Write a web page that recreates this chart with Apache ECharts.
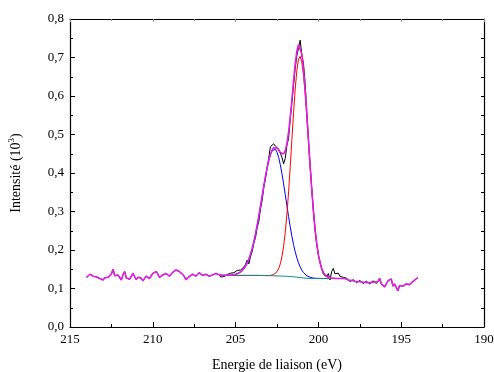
<!DOCTYPE html>
<html>
<head>
<meta charset="utf-8">
<script src="https://cdn.jsdelivr.net/npm/echarts@6/dist/echarts.min.js"></script>
<style>html,body{margin:0;padding:0;background:#fff}#c{width:494px;height:372px}</style>
</head>
<body>
<div id="c"></div>
<script>
// Raw spectrum: 214.0 eV down to 194.0 eV, step 0.1 eV
var rawStart = 214.0, rawStep = 0.1;
var rawIntensity = [
 .129,.133,.137,.135,.132,.134,.130,.127,.126,.124,
 .122,.128,.132,.129,.131,.138,.150,.133,.131,.135,
 .130,.122,.136,.144,.127,.129,.124,.122,.139,.131,
 .123,.129,.131,.127,.120,.126,.132,.130,.126,.131,
 .139,.136,.144,.138,.129,.131,.135,.132,.139,.137,
 .132,.135,.142,.139,.148,.146,.144,.141,.137,.131,
 .123,.127,.131,.129,.137,.134,.132,.135,.141,.138,
 .134,.136,.137,.135,.132,.134,.135,.134,.139,.143,
 .136,
 .130,.128,.131,.133,.136,.134,.140,.144,.141,.139,
 .147,.152,.148,.146,.156,.162,.174,.164,.183,.196,
 .218,.232,.258,.274,.306,.328,.362,.385,.412,.438,
 .468,.472,.476,.470,.466,.462,.452,.441,.424,.438,
 .472,.490,.541,.582,.628,.672,.705,.724,.745,.706,
 .684,.632,.558,.486,.420,.360,.302,.251,.215,.187,
 .168,.151,.137,.132,.130,.139,.122,.144,.152,.138,
 .135,.140,.132,.136,.129,.131,.127,
 .122,.118,.121,.123,.119,.115,.118,.121,.117,.113,
 .116,.119,.115,.112,.116,.120,.117,.113,.118,.126,
 .112,.108,.104,.112,.120,.124,.125,.106,.112,.103,
 .094,.108,.113,.106,.109,.112,.115,.110,.107,.118,
 .122,.125,.128
];

// Fit region: 205.9 eV down to 198.3 eV, step 0.1 eV
var fitStart = 205.9, fitStep = 0.1;
var baseline = [
 .134,.134,.134,.134,.134,.134,.134,.134,.134,.134,
 .134,.134,.134,.134,.134,.134,.134,.134,.134,.134,
 .134,.134,.134,.134,
 .1339,.1338,.1337,.1336,.1335,.1334,.1333,.1331,.1330,.1328,
 .1327,.1325,.1324,.1322,.1321,.1319,.1317,.1315,.1312,.1309,
 .1305,.1300,.1295,.1289,.1283,.1278,.1273,.1269,.1266,.1264,
 .1262,.1261,
 .126,.126,.126,.126,.126,.126,.126,.126,.126,.126,
 .126,.126,.126,.126,.126,.126,.126,.126,.126,.126,.126
];
var peakBlue = [
 .1340,.1341,.1341,.1342,.1343,.1345,.1348,.1352,.1359,.1369,
 .1383,.1403,.1430,.1467,.1516,.1580,.1662,.1763,.1888,.2038,
 .2212,.2411,.2634,.2876,.3131,.3392,.3652,.3900,.4126,.4320,
 .4472,.4575,.4625,.4616,.4542,.4405,.4215,.3981,.3717,.3435,
 .3147,.2867,.2601,.2357,.2141,.1953,.1795,.1664,.1559,.1476,
 .1413,.1366,.1331,.1307,.1290,.1279,.1271,.1267,.1264,.1262,
 .1261,
 .126,.126,.126,.126,.126,.126,.126,.126,.126,.126,
 .126,.126,.126,.126,.126,.126
];
var peakRed = [
 .134,.134,.134,.134,.134,.134,.134,.134,.134,.134,
 .134,.134,.134,.134,.134,.134,.134,.134,.134,.134,
 .134,.134,.134,.134,.1339,.1338,.1337,.1336,.1335,
 .1338,.1341,.1347,.1362,.1388,.1436,.1515,.1640,.1829,.2099,
 .2465,.2937,.3510,.4166,.4868,.5562,.6183,.6670,.6963,.7029,
 .6882,.6548,.6061,.5466,.4817,.4163,.3546,.2997,.2535,.2162,
 .1876,.1667,.1519,.1419,.1354,.1314,.1290,.1276,.1268,.1264,
 .1262,.1261,
 .126,.126,.126,.126,.126,.126
];
var envelope = [
 .1340,.1341,.1341,.1342,.1343,.1345,.1348,.1352,.1359,.1369,
 .1383,.1403,.1430,.1467,.1516,.1580,.1662,.1763,.1888,.2038,
 .2212,.2411,.2634,.2876,.3131,.3392,.3652,.3900,.4126,
 .4324,.4480,.4591,.4657,.4676,.4651,.4595,.4531,.4488,.4495,
 .4581,.4767,.5062,.5455,.5916,.6398,.6836,.7170,.7338,.7305,
 .7080,.6688,.6158,.5531,.4860,.4191,.3564,.3008,.2542,.2166,
 .1878,.1668,.1519,.1419,.1354,.1314,.1290,.1276,.1268,.1264,
 .1262,.1261,
 .126,.126,.126,.126,.126,.126
];

var xTicks = [190, 195, 200, 205, 210, 215];
var yTicks = [0, 0.1, 0.2, 0.3, 0.4, 0.5, 0.6, 0.7, 0.8];

function energyAt(start, step, i) { return Math.round((start - i * step) * 10) / 10; }
function pairs(start, step, arr) {
  return arr.map(function (v, i) { return [energyAt(start, step, i), v]; });
}
var rawPairs = pairs(rawStart, rawStep, rawIntensity);
var fitEnd = energyAt(fitStart, fitStep, envelope.length - 1);
var magentaPairs = rawPairs.map(function (p) {
  if (p[0] <= fitStart && p[0] >= fitEnd) {
    var j = Math.round((fitStart - p[0]) / fitStep);
    return [p[0], envelope[j]];
  }
  return p;
});

var FONT = '"Liberation Serif","Times New Roman",serif';
var chart = echarts.init(document.getElementById('c'), null, {renderer: 'canvas'});
function axisBase(extra) {
  var o = {
    axisLine: {show: true, onZero: false, lineStyle: {color: '#000', width: 1.2}},
    axisTick: {show: true, inside: true, length: 5, lineStyle: {color: '#000', width: 1}},
    minorTick: {show: true, splitNumber: 2, length: 3, lineStyle: {color: '#000', width: 1}},
    splitLine: {show: false},
    minorSplitLine: {show: false}
  };
  for (var k in extra) o[k] = extra[k];
  return o;
}
var option = {
  animation: false,
  backgroundColor: '#fff',
  grid: {left: 70, right: 10, top: 19, bottom: 45, containLabel: false, outerBoundsMode: 'none'},
  xAxis: [
    axisBase({
      type: 'value', position: 'bottom', min: xTicks[0], max: xTicks[xTicks.length - 1], interval: 5, inverse: true,
      name: 'Energie de liaison (eV)', nameLocation: 'middle', nameGap: 31,
      nameTextStyle: {fontFamily: FONT, fontSize: 14, color: '#000', verticalAlign: 'top'},
      axisLabel: {show: true, margin: 6, fontFamily: FONT, fontSize: 13, color: '#000', formatter: function (v) { return String(v); }}
    }),
    axisBase({
      type: 'value', position: 'top', min: xTicks[0], max: xTicks[xTicks.length - 1], interval: 5, inverse: true,
      axisLabel: {show: false},
      axisTick: {show: true, inside: true, length: 3, lineStyle: {color: '#999', width: 1}},
      minorTick: {show: true, splitNumber: 2, length: 2, lineStyle: {color: '#999', width: 1}}
    })
  ],
  yAxis: [
    axisBase({
      type: 'value', position: 'left', min: yTicks[0], max: yTicks[yTicks.length - 1], interval: 0.1,
      name: 'Intensité (10{sup|3})', nameLocation: 'middle', nameGap: 45,
      nameTextStyle: {fontFamily: FONT, fontSize: 14, color: '#000',
        rich: {sup: {fontFamily: FONT, fontSize: 9, color: '#000', padding: [0, 0, 9, 0]}}},
      axisLabel: {show: true, margin: 6, fontFamily: FONT, fontSize: 13, color: '#000',
        formatter: function (v) { return v.toFixed(1).replace('.', ','); }}
    }),
    axisBase({
      type: 'value', position: 'right', min: yTicks[0], max: yTicks[yTicks.length - 1], interval: 0.1,
      axisLabel: {show: false},
      axisTick: {show: true, inside: true, length: 3, lineStyle: {color: '#000', width: 1}},
      minorTick: {show: true, splitNumber: 2, length: 3, lineStyle: {color: '#000', width: 1}}
    })
  ],
  series: [
    {name: 'raw', type: 'line', data: rawPairs, showSymbol: false, symbol: 'none',
      lineStyle: {color: '#000', width: 1}, z: 2},
    {name: 'blue', type: 'line', data: pairs(fitStart, fitStep, peakBlue), showSymbol: false, symbol: 'none',
      lineStyle: {color: '#0000ff', width: 1}, z: 3},
    {name: 'red', type: 'line', data: pairs(fitStart, fitStep, peakRed), showSymbol: false, symbol: 'none',
      lineStyle: {color: '#ff0000', width: 1}, z: 3},
    {name: 'baseline', type: 'line', data: pairs(fitStart, fitStep, baseline), showSymbol: false, symbol: 'none',
      lineStyle: {color: '#108a8a', width: 1}, z: 4},
    {name: 'fit', type: 'line', data: magentaPairs, showSymbol: false, symbol: 'none',
      lineStyle: {color: '#dd22e0', width: 1.6}, z: 5}
  ]
};
chart.setOption(option);
</script>
</body>
</html>
